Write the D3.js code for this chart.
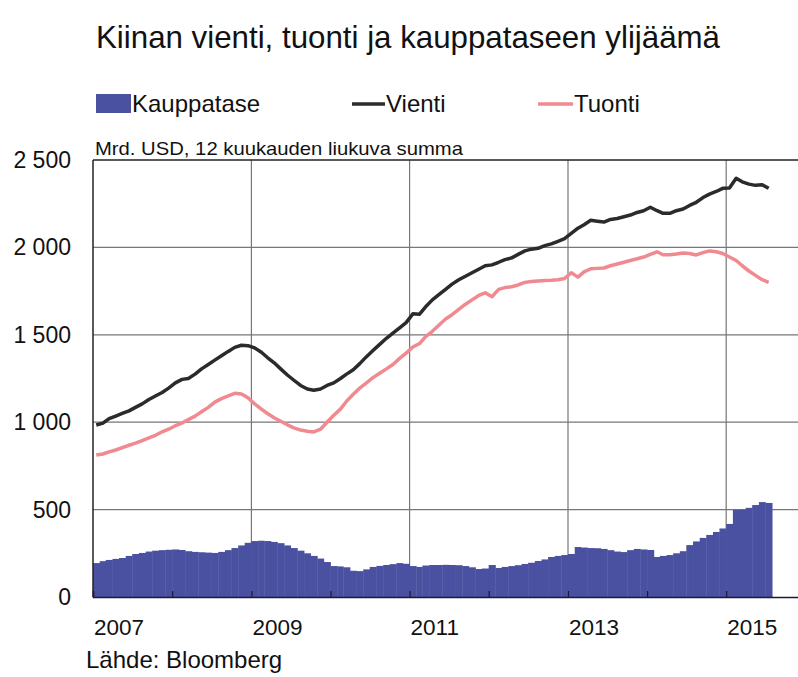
<!DOCTYPE html>
<html><head><meta charset="utf-8">
<script src="https://cdn.jsdelivr.net/npm/d3@7/dist/d3.min.js"></script>
<style>body{margin:0;background:#fff}svg{display:block;font-family:"Liberation Sans",Arial,sans-serif}</style>
</head><body><svg id="c" width="798" height="677"></svg>
<script>
const title = "Kiinan vienti, tuonti ja kauppataseen ylijäämä";
const subtitle = "Mrd. USD, 12 kuukauden liukuva summa";
const source = "Lähde: Bloomberg";
const seriesNames = ["Kauppatase", "Vienti", "Tuonti"];
const startYear = 2007, startMonth = 0; // monthly from Jan 2007
const yTicks = [0, 500, 1000, 1500, 2000, 2500];
const xTickYears = [2007, 2009, 2011, 2013, 2015];
const vienti = [984,995,1020,1035,1050,1065,1085,1105,1130,1150,1170,1195,1225,1245,1250,1275,1305,1330,1355,1380,1405,1428,1440,1438,1425,1400,1370,1340,1305,1270,1240,1210,1190,1183,1190,1210,1225,1250,1275,1300,1335,1375,1410,1445,1480,1510,1540,1570,1620,1618,1660,1700,1730,1760,1790,1815,1835,1855,1875,1895,1900,1915,1930,1940,1960,1980,1990,1995,2010,2020,2035,2050,2080,2110,2130,2155,2150,2145,2160,2165,2175,2185,2200,2210,2230,2210,2195,2195,2210,2220,2240,2258,2285,2305,2320,2338,2340,2395,2375,2362,2355,2358,2338];
const tuonti = [812,818,830,841,855,868,880,895,910,925,945,960,980,995,1015,1035,1060,1085,1115,1135,1150,1165,1162,1140,1105,1075,1050,1025,1005,985,968,955,948,944,960,1000,1040,1075,1120,1160,1195,1225,1255,1280,1305,1330,1365,1395,1430,1450,1490,1520,1555,1590,1615,1645,1675,1700,1725,1740,1718,1760,1770,1775,1785,1800,1805,1808,1810,1812,1815,1822,1855,1830,1860,1878,1880,1882,1895,1905,1915,1925,1935,1945,1960,1975,1958,1958,1962,1968,1965,1957,1970,1980,1975,1965,1945,1925,1895,1865,1840,1815,1800];
const kauppatase = [194,205,212,218,223,235,246,252,260,265,268,270,272,269,262,258,256,254,252,258,268,280,295,310,320,322,320,315,308,295,280,265,250,235,220,200,177,175,170,150,148,158,172,178,183,188,194,190,177,172,180,183,183,184,183,182,177,170,160,163,183,166,172,177,182,189,196,206,215,229,235,240,246,286,283,280,279,275,268,260,257,268,275,272,269,229,235,240,250,262,297,318,338,355,372,392,418,498,500,510,526,543,538];

const colors = {bar:"#4a51a0", vienti:"#2b2b2b", tuonti:"#f08a90"};
const svg = d3.select("#c");
const m = {left:93, top:160, right:812, bottom:597};
const dates = kauppatase.map((_, i) => new Date(startYear, startMonth + i, 1));
const x = d3.scaleTime().domain([new Date(2007,0,1), new Date(2016,1,1)]).range([m.left, m.right]);
const y = d3.scaleLinear().domain([0,2500]).range([m.bottom, m.top]);
const mid = d => new Date(d.getFullYear(), d.getMonth(), 16);
const next = d => new Date(d.getFullYear(), d.getMonth()+1, 1);

// title, legend, subtitle
svg.append("text").attr("x",96).attr("y",48).attr("font-size",32).attr("fill","#111")
  .attr("textLength",624).attr("lengthAdjust","spacingAndGlyphs").text(title);
const lg = svg.append("g").attr("font-size",24).attr("fill","#111");
lg.append("rect").attr("x",96).attr("y",94).attr("width",35).attr("height",19).attr("fill",colors.bar);
lg.append("text").attr("x",132).attr("y",112).text(seriesNames[0]);
lg.append("line").attr("x1",352).attr("x2",385).attr("y1",104).attr("y2",104).attr("stroke",colors.vienti).attr("stroke-width",3.5);
lg.append("text").attr("x",386).attr("y",112).text(seriesNames[1]);
lg.append("line").attr("x1",538).attr("x2",573).attr("y1",104).attr("y2",104).attr("stroke",colors.tuonti).attr("stroke-width",3.5);
lg.append("text").attr("x",574).attr("y",112).text(seriesNames[2]);
svg.append("text").attr("x",95).attr("y",155).attr("font-size",19).attr("fill","#111")
  .attr("textLength",368).attr("lengthAdjust","spacingAndGlyphs").text(subtitle);

// grid
const g = svg.append("g");
g.selectAll(".hg").data(yTicks.filter(v=>v>0&&v<2500)).join("line")
  .attr("x1",m.left).attr("x2",m.right).attr("y1",d=>y(d)).attr("y2",d=>y(d))
  .attr("stroke","#777").attr("stroke-width",1.2);
g.selectAll(".vg").data(xTickYears.filter(v=>v>2007)).join("line")
  .attr("x1",d=>x(new Date(d,0,1))).attr("x2",d=>x(new Date(d,0,1))).attr("y1",m.top).attr("y2",m.bottom)
  .attr("stroke","#777").attr("stroke-width",1.2);

// bars
g.selectAll(".bar").data(kauppatase).join("rect")
  .attr("x",(d,i)=>x(dates[i])).attr("width",(d,i)=>x(next(dates[i]))-x(dates[i])+0.4)
  .attr("y",d=>y(d)).attr("height",d=>y(0)-y(d)).attr("fill",colors.bar);

// lines
const line = d3.line().x((d,i)=>x(mid(dates[i]))).y(d=>y(d));
g.append("path").datum(tuonti).attr("d",line).attr("fill","none").attr("stroke",colors.tuonti).attr("stroke-width",3.5).attr("stroke-linejoin","round");
g.append("path").datum(vienti).attr("d",line).attr("fill","none").attr("stroke",colors.vienti).attr("stroke-width",3.5).attr("stroke-linejoin","round");

// frame
svg.append("line").attr("x1",m.left).attr("x2",m.right).attr("y1",m.top).attr("y2",m.top).attr("stroke","#222").attr("stroke-width",1.5);
svg.append("line").attr("x1",m.left).attr("x2",m.left).attr("y1",m.top).attr("y2",m.bottom).attr("stroke","#222").attr("stroke-width",1.5);

// x axis
const xa = svg.append("g").attr("transform",`translate(0,${m.bottom})`)
  .call(d3.axisBottom(x).ticks(d3.timeYear.every(1)).tickSize(-6).tickFormat(""));
xa.select(".domain").attr("stroke","#1a1a3a").attr("stroke-width",1.5);
xa.selectAll(".tick line").attr("stroke","#1a1a3a").attr("stroke-width",1.2);
svg.append("g").selectAll("text").data(xTickYears).join("text")
  .attr("x",d=>x(new Date(d,0,1))+1).attr("y",635).attr("font-size",22.5).attr("fill","#111").text(d=>d);

// y axis labels
const fmt = v => v >= 1000 ? d3.format(",")(v).replace(",", " ") : String(v);
svg.append("g").selectAll("text").data(yTicks).join("text")
  .attr("x",71).attr("y",d=>y(d)+8).attr("text-anchor","end").attr("font-size",23).attr("fill","#111").text(fmt);

svg.append("text").attr("x",86).attr("y",668).attr("font-size",24).attr("fill","#111").text(source);
</script></body></html>
